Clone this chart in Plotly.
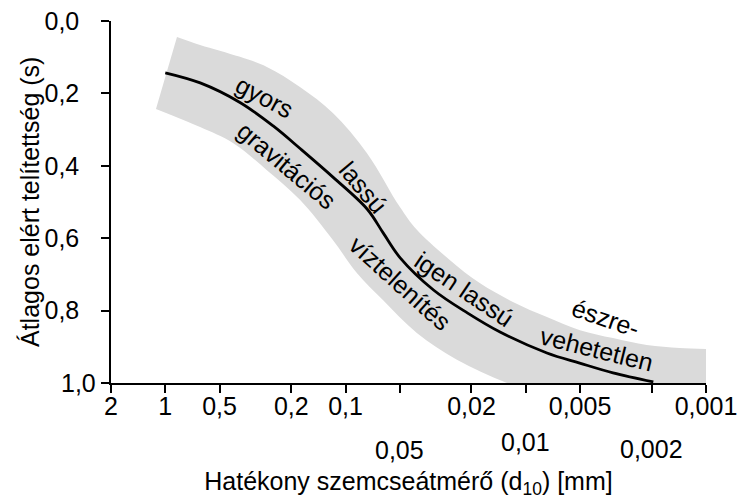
import math
import plotly.graph_objects as go

# ---- data ----
# effective grain diameter d10 [mm] and average saturation reached (s)
curve_d10 = [1.0, 0.64, 0.385, 0.252, 0.178, 0.117, 0.0757, 0.0617, 0.0496, 0.0325,
             0.021, 0.0138, 0.00763, 0.00502, 0.00328, 0.00196]
curve_s = [0.143, 0.171, 0.225, 0.29, 0.353, 0.432, 0.52, 0.586, 0.655, 0.743,
           0.807, 0.86, 0.917, 0.945, 0.972, 0.997]

band_upper_d10 = [0.861, 0.641, 0.385, 0.273, 0.179, 0.1175, 0.076, 0.0499, 0.0402,
                  0.0264, 0.018, 0.01178, 0.00763, 0.005, 0.00328, 0.00213, 0.0014, 0.001]
band_upper_s = [0.044, 0.066, 0.099, 0.127, 0.182, 0.254, 0.365, 0.514, 0.577,
                0.660, 0.724, 0.776, 0.818, 0.854, 0.876, 0.895, 0.903, 0.906]

band_lower_d10 = [1.126, 0.641, 0.421, 0.273, 0.179, 0.1175, 0.0865, 0.062, 0.0402,
                  0.0241, 0.0127, 0.00645, 0.001]
band_lower_s = [0.243, 0.293, 0.337, 0.412, 0.494, 0.605, 0.696, 0.771, 0.862,
                0.936, 1.0, 1.047, 1.10]

x_tickvals = [2, 1, 0.5, 0.2, 0.1, 0.05, 0.02, 0.01, 0.005, 0.002, 0.001]
x_ticktext_row1 = ["2", "1", "0,5", "0,2", "0,1", "", "0,02", "", "0,005", "", "0,001"]
x_ticktext_row2 = {0.05: "0,05", 0.01: "0,01", 0.002: "0,002"}
y_tickvals = [0.0, 0.2, 0.4, 0.6, 0.8, 1.0]
y_ticktext = ["0,0", "0,2", "0,4", "0,6", "0,8", ""]
y_last_label = "1,0"

x_title = "Hatékony szemcseátmérő (d<sub>10</sub>) [mm]"
y_title = "Átlagos elért telítettség (s)"

zone_labels = ["gyors", "gravitációs", "lassú", "víztelenítés", "igen lassú",
               "észre-", "vehetetlen"]

# ---- figure ----
FONT = "Liberation Sans, Arial, sans-serif"
FS = 25
BAND = "#dadada"

fig = go.Figure()
fig.add_trace(go.Scatter(x=band_lower_d10, y=band_lower_s, mode="lines",
                         line=dict(width=0, shape="spline", color=BAND),
                         hoverinfo="skip", showlegend=False))
fig.add_trace(go.Scatter(x=band_upper_d10, y=band_upper_s, mode="lines",
                         line=dict(width=0, shape="spline", color=BAND),
                         fill="tonexty", fillcolor=BAND,
                         hoverinfo="skip", showlegend=False))
fig.add_trace(go.Scatter(x=curve_d10, y=curve_s, mode="lines",
                         line=dict(width=2.8, shape="spline", color="black"),
                         showlegend=False))

# zone labels: (x in d10 mm, y, angle)
label_pos = [(0.28, 0.21, 28), (0.21, 0.40, 40), (0.080, 0.459, 50),
             (0.0499, 0.724, 42), (0.022, 0.74, 34), (0.0036, 0.82, 19),
             (0.00405, 0.906, 14)]
for text, (xd, yd, ang) in zip(zone_labels, label_pos):
    fig.add_annotation(x=math.log10(xd), y=yd, xref="x", yref="y", text=text,
                       textangle=ang, showarrow=False,
                       font=dict(family=FONT, size=FS, color="black"))

# second row of x tick labels
row2_shift = {0.05: -67, 0.01: -59, 0.002: -66}
for v, t in x_ticktext_row2.items():
    fig.add_annotation(x=math.log10(v), y=0, xref="x", yref="paper", text=t,
                       yshift=row2_shift[v], showarrow=False, yanchor="middle",
                       font=dict(family=FONT, size=FS, color="black"))
# "1,0" label sits closer to the axis in the reference
fig.add_annotation(x=0, y=1.0, xref="paper", yref="y", text=y_last_label,
                   xanchor="right", yanchor="middle", xshift=-13, showarrow=False,
                   font=dict(family=FONT, size=FS, color="black"))
# y-axis title
fig.add_annotation(x=0, y=0.5, xref="paper", yref="paper", text=y_title,
                   textangle=-90, xanchor="center", yanchor="middle",
                   xshift=-81, showarrow=False,
                   font=dict(family=FONT, size=FS, color="black"))

fig.update_xaxes(type="log", range=[math.log10(2), math.log10(0.001)],
                 tickvals=x_tickvals, ticktext=x_ticktext_row1, automargin=False,
                 showline=True, linecolor="black", linewidth=1.5,
                 ticks="outside", ticklen=8, tickwidth=1.5, tickcolor="black",
                 showgrid=False, zeroline=False, ticklabelstandoff=-8,
                 tickfont=dict(family=FONT, size=FS, color="black"),
                 title=dict(text=x_title,
                            font=dict(family=FONT, size=FS, color="black"),
                            standoff=60))
fig.update_yaxes(range=[1, 0], tickvals=y_tickvals, ticktext=y_ticktext,
                 automargin=False,
                 showline=True, linecolor="black", linewidth=1.5,
                 ticks="outside", ticklen=8, tickwidth=1.5, tickcolor="black",
                 showgrid=False, zeroline=False, ticklabelstandoff=17,
                 tickfont=dict(family=FONT, size=FS, color="black"))
fig.update_layout(width=738, height=499,
                  margin=dict(l=111, r=32, t=21, b=116),
                  plot_bgcolor="white", paper_bgcolor="white",
                  font=dict(family=FONT, size=FS, color="black"))

fig.write_html("out.html", config={"displayModeBar": False},
               post_script="document.body.style.margin='0';"
                           "document.body.style.overflow='hidden';")
